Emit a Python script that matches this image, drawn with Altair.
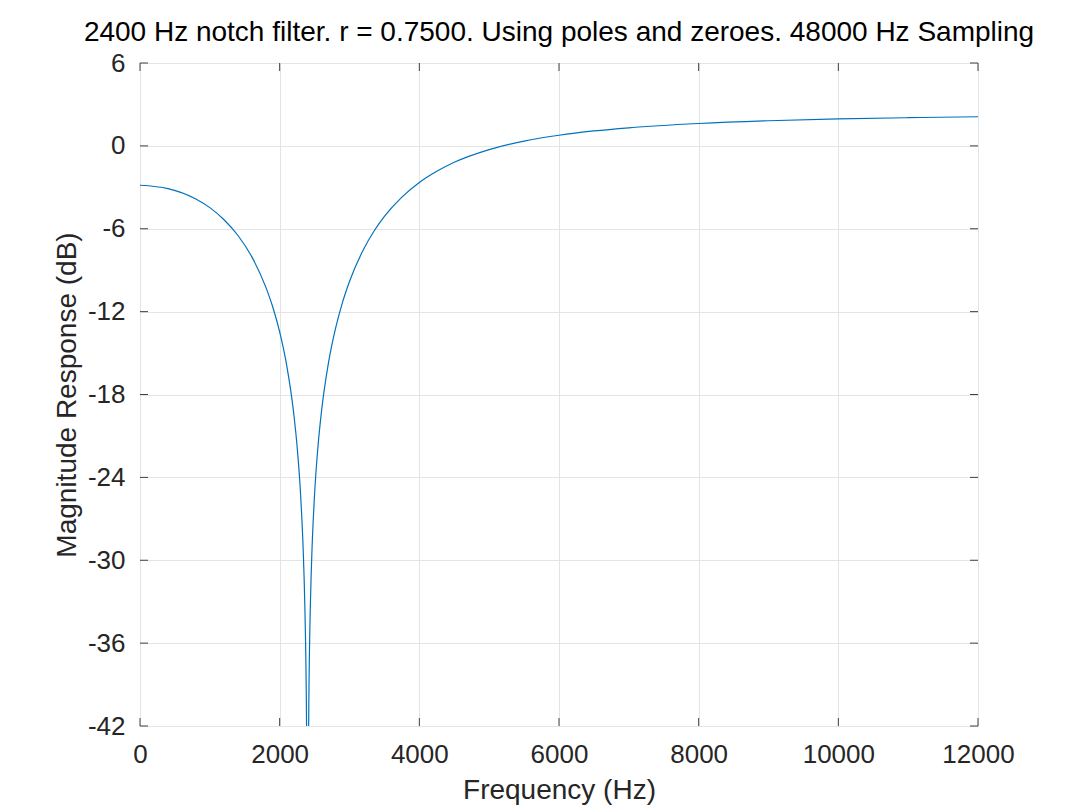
import altair as alt
import pandas as pd

# Frequency (Hz) and magnitude response (dB)
freq = [0, 400, 800, 1000, 1200, 1400, 1600, 1800, 1900, 2000, 2100, 2200, 2250,
        2300, 2340, 2350, 2360, 2380, 2390, 2400, 2410, 2420, 2440, 2450, 2460,
        2500, 2550, 2600, 2700, 2800, 2900, 3000, 3200, 3350, 3500, 3750, 4000,
        4250, 4500, 5000, 5500, 6000, 6500, 7000, 8000, 9000, 10000, 11000, 12000]
mag_db = [-2.85, -3.09, -3.84, -4.47, -5.33, -6.47, -8.02, -10.21, -11.65, -13.47,
          -15.87, -19.31, -21.78, -25.27, -29.69, -31.27, -33.20, -39.2, -45.2, -60.0,
          -45.2, -39.2, -33.18, -31.23, -29.65, -25.21, -21.68, -19.18, -15.68, -13.22,
          -11.33, -9.82, -7.50, -6.18, -5.11, -3.71, -2.65, -1.84, -1.19, -0.27,
          0.35, 0.77, 1.08, 1.31, 1.62, 1.82, 1.95, 2.04, 2.11]

x_ticks = [0, 2000, 4000, 6000, 8000, 10000, 12000]
y_ticks = [-42, -36, -30, -24, -18, -12, -6, 0, 6]

W, H = 838, 663
FONT = "Liberation Sans"
AXIS_COL = "#262626"
LABEL_EXPR = "datum.value < 0 ? '-' + format(abs(datum.value), 'd') : format(datum.value, 'd')"

df = pd.DataFrame({"f": freq, "db": mag_db})
xt = pd.DataFrame({"f": x_ticks})
yt = pd.DataFrame({"db": y_ticks})

xscale = alt.Scale(domain=[0, 12000], nice=False, zero=False)
yscale = alt.Scale(domain=[-42, 6], nice=False, zero=False)

line = alt.Chart(df).mark_line(color="#0072BD", strokeWidth=1.2, clip=True,
                               interpolate="monotone").encode(
    x=alt.X("f:Q", scale=xscale, title="Frequency (Hz)",
            axis=alt.Axis(values=x_ticks, ticks=False, domain=False, grid=True,
                          gridColor="#e4e4e4", labelFontSize=26, labelFont=FONT,
                          labelColor=AXIS_COL, labelPadding=15, titleFontSize=28,
                          titleFont=FONT, titleColor=AXIS_COL, titleFontWeight="normal",
                          titlePadding=9, labelFlush=False, labelExpr=LABEL_EXPR)),
    y=alt.Y("db:Q", scale=yscale, title="Magnitude Response (dB)",
            axis=alt.Axis(values=y_ticks, ticks=False, domain=False, grid=True,
                          gridColor="#e4e4e4", labelFontSize=26, labelFont=FONT,
                          labelColor=AXIS_COL, labelPadding=15, titleFontSize=28,
                          titleFont=FONT, titleColor=AXIS_COL, titleFontWeight="normal",
                          titlePadding=6, labelFlush=False, labelExpr=LABEL_EXPR)),
)

tick_col = "#404040"
bottom_ticks = alt.Chart(xt).mark_rule(color=tick_col, strokeWidth=1).encode(
    x=alt.X("f:Q", scale=xscale), y=alt.value(H), y2=alt.value(H - 8))
top_ticks = alt.Chart(xt).mark_rule(color=tick_col, strokeWidth=1).encode(
    x=alt.X("f:Q", scale=xscale), y=alt.value(0), y2=alt.value(8))
left_ticks = alt.Chart(yt).mark_rule(color=tick_col, strokeWidth=1).encode(
    y=alt.Y("db:Q", scale=yscale), x=alt.value(0), x2=alt.value(8))
right_ticks = alt.Chart(yt).mark_rule(color=tick_col, strokeWidth=1).encode(
    y=alt.Y("db:Q", scale=yscale), x=alt.value(W), x2=alt.value(W - 8))

chart = alt.layer(line, bottom_ticks, top_ticks, left_ticks, right_ticks).properties(
    width=W, height=H,
    title=alt.TitleParams("2400 Hz notch filter. r = 0.7500. Using poles and zeroes. 48000 Hz Sampling",
                          fontSize=28, font=FONT, color="#000000", fontWeight="normal",
                          anchor="middle", frame="group", offset=3),
    autosize=alt.AutoSizeParams(type="none"),
    padding={"left": 132, "top": 55, "right": 60, "bottom": 80},
).configure_view(stroke="#505050", strokeWidth=1).configure(background="white")

chart.save("out.html", embed_options={"renderer": "svg", "actions": False})
